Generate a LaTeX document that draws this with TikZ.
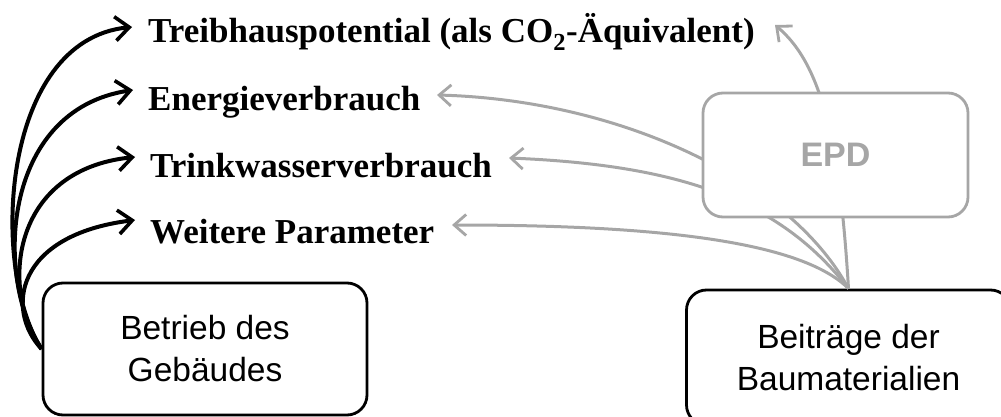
\documentclass[tikz,border=0pt]{standalone}
\usepackage{fontspec}
\setmainfont{Liberation Serif}
\newfontfamily\arialf{Liberation Sans}
\usetikzlibrary{arrows.meta}
\definecolor{epdgray}{RGB}{166,166,166}
\tikzset{
  lab/.style={anchor=base west, inner sep=0pt, font=\fontsize{35}{40}\selectfont\bfseries},
  boxb/.style={draw=black, line width=2.8pt, rounded corners=20pt, fill=white, align=center,
               font=\arialf\fontsize{33.5}{42}\selectfont, inner sep=0pt},
  boxg/.style={draw=epdgray, line width=2.8pt, rounded corners=20pt, fill=white,
               text=epdgray, font=\arialf\bfseries\fontsize{34}{40}\selectfont, inner sep=0pt},
  blk/.style={draw=black, line width=4pt, -{Straight Barb[length=14pt,width=24pt,line width=3.6pt]}},
  gry/.style={draw=epdgray, line width=3pt, -{Straight Barb[length=12pt,width=21pt,line width=2.8pt]}},
}
\begin{document}
\begin{tikzpicture}[x=1pt,y=-1pt]
\useasboundingbox (0,0) rectangle (1001,417);
\clip (0,0) rectangle (1001,417);
% labels
\node[lab] (tr) at (148,43) {Treibhauspotential (als CO\textsubscript{2}-Äquivalent)};
\node[lab] (en) at (148,111) {Energieverbrauch};
\node[lab] (tw) at (150,177) {Trinkwasserverbrauch};
\node[lab] (wp) at (150,243) {Weitere Parameter};
% tip coordinates
\coordinate (btr) at (132,27);
\coordinate (ben) at (133,90);
\coordinate (btw) at (135,157);
\coordinate (bwp) at (135,220);
\coordinate (gtr) at (775,25);
\coordinate (gen) at (437,95);
\coordinate (gtw) at (509,158);
\coordinate (gwp) at (452,225);
% boxes (beitrag first, gray connectors start there)
\node[boxb, minimum width=324pt, minimum height=135pt] (bm) at (848.5,357.5) {Beiträge der\\Baumaterialien};
\draw[gry] (bm.north) .. controls (840,150) and (824,66) .. (gtr);
\draw[gry] (bm.north) .. controls (790,180) and (620,100) .. (gen);
\draw[gry] (bm.north) .. controls (780,200) and (680,165) .. (gtw);
\draw[gry] (bm.north) .. controls (800,240) and (650,225) .. (gwp);
\node[boxg, minimum width=265pt, minimum height=124pt] (epd) at (835.5,155) {EPD};
% Betrieb
\node[boxb, minimum width=324pt, minimum height=132pt] (bg) at (205,349) {Betrieb des\\Gebäudes};
\draw[blk] (bg.west) .. controls (-10,270) and (0,40) .. (btr);
\draw[blk] (bg.west) .. controls (-5,280) and (0,110) .. (ben);
\draw[blk] (bg.west) .. controls (0,290) and (10,170) .. (btw);
\draw[blk] (bg.west) .. controls (5,310) and (15,235) .. (bwp);
\end{tikzpicture}
\end{document}
